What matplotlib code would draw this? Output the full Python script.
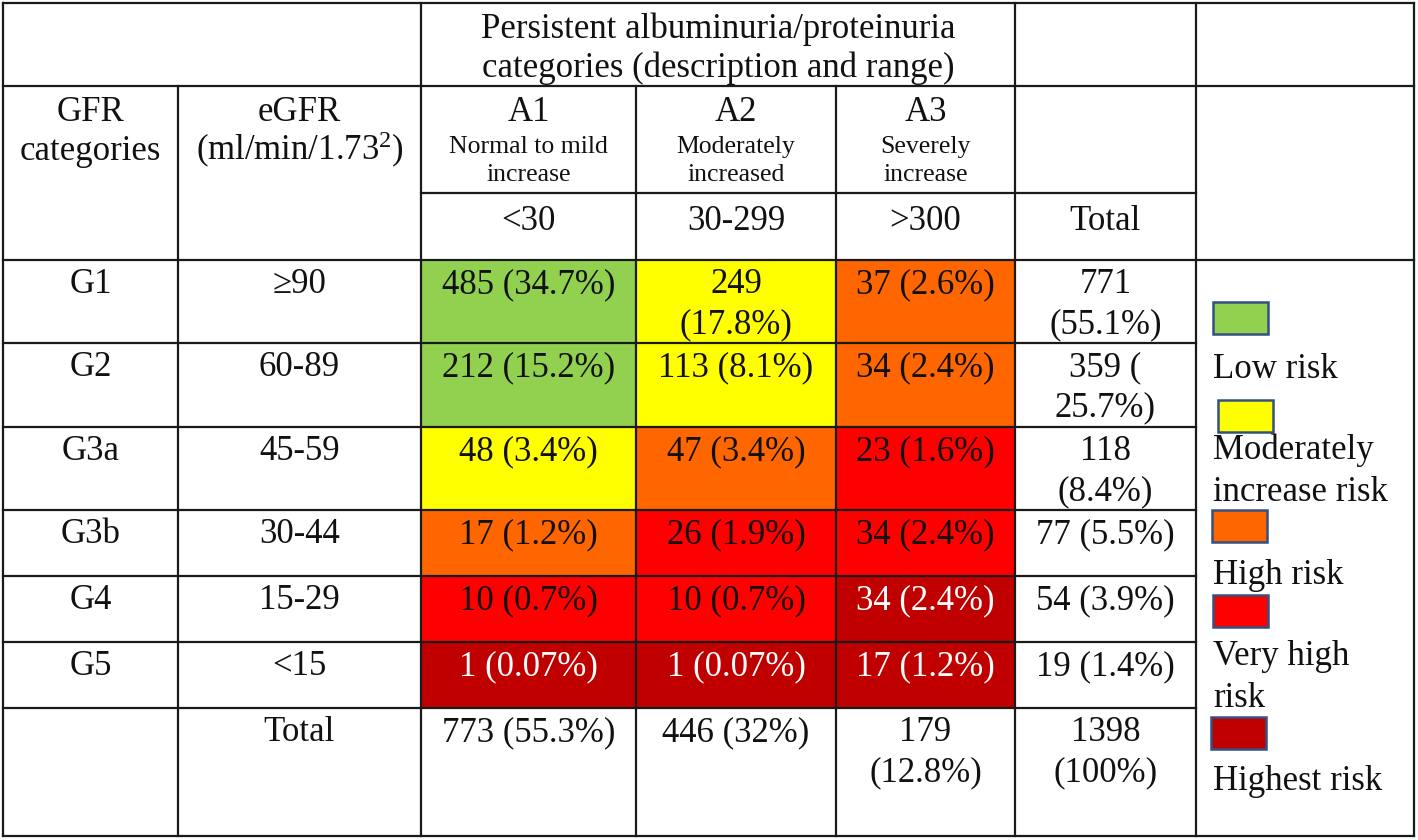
import matplotlib
matplotlib.use("Agg")
import matplotlib.pyplot as plt
from matplotlib.patches import Rectangle

# ---------------- data ----------------
gfr_categories = ["G1", "G2", "G3a", "G3b", "G4", "G5"]
egfr_ranges = ["\u226590", "60-89", "45-59", "30-44", "15-29", "<15"]
alb_categories = ["A1", "A2", "A3"]
alb_descriptions = ["Normal to mild\nincrease", "Moderately\nincreased", "Severely\nincrease"]
alb_ranges = ["<30", "30-299", ">300"]
counts = [[485, 249, 37],
          [212, 113, 34],
          [48, 47, 23],
          [17, 26, 34],
          [10, 10, 34],
          [1, 1, 17]]
percents = [["34.7", "17.8", "2.6"],
            ["15.2", "8.1", "2.4"],
            ["3.4", "3.4", "1.6"],
            ["1.2", "1.9", "2.4"],
            ["0.7", "0.7", "2.4"],
            ["0.07", "0.07", "1.2"]]
wrapped_cells = {(0, 1)}
risk_levels = [[0, 1, 2],
               [0, 1, 2],
               [1, 2, 3],
               [2, 3, 3],
               [3, 3, 4],
               [4, 4, 4]]
row_total_labels = ["771\n(55.1%)", "359 (\n25.7%)", "118\n(8.4%)",
                    "77 (5.5%)", "54 (3.9%)", "19 (1.4%)"]
col_total_labels = ["773 (55.3%)", "446 (32%)", "179\n(12.8%)"]
grand_total_label = "1398\n(100%)"
title_text = "Persistent albuminuria/proteinuria\ncategories (description and range)"
egfr_header = "eGFR\n(ml/min/1.73$^{2}$)"
risk_labels = ["Low risk", "Moderately\nincrease risk", "High risk",
               "Very high\nrisk", "Highest risk"]
risk_colors = ["#92D050", "#FFFF00", "#FF6600", "#FF0000", "#C00000"]
risk_text_colors = ["#111111", "#111111", "#111111", "#111111", "#FFFFFF"]

# ---------------- layout (pixels) ----------------
W, H = 1418, 840
col_edges = [3, 178, 421, 636, 836, 1015, 1196, 1414]
row_edges = [260, 343, 427, 510, 576, 642, 708, 836]
top, hdr1, hdr2 = 3, 86, 193
first_off = 33     # baseline offset from row top
line_gap = 40

plt.rcParams["font.family"] = ["Liberation Serif", "DejaVu Serif"]
plt.rcParams["mathtext.fontset"] = "custom"
plt.rcParams["mathtext.rm"] = "Liberation Serif"
plt.rcParams["mathtext.it"] = "Liberation Serif"
plt.rcParams["mathtext.default"] = "rm"
FS = 25
FS_SMALL = 18.5
FS_LEG = 25

fig = plt.figure(figsize=(W / 100, H / 100), dpi=100)
ax = fig.add_axes([0, 0, 1, 1])
ax.set_xlim(0, W)
ax.set_ylim(H, 0)
ax.axis("off")


def cell_text(x, y0, text, fs=FS, color="#111111", gap=line_gap, ha="center"):
    for i, line in enumerate(text.split("\n")):
        ax.text(x, y0 + i * gap, line, fontsize=fs, color=color,
                ha=ha, va="baseline")


def cx(c):
    return (col_edges[c] + col_edges[c + 1]) / 2


# coloured cells
for r in range(len(gfr_categories)):
    for c in range(len(alb_categories)):
        lvl = risk_levels[r][c]
        x0, x1 = col_edges[c + 2], col_edges[c + 3]
        y0, y1 = row_edges[r], row_edges[r + 1]
        ax.add_patch(Rectangle((x0, y0), x1 - x0, y1 - y0,
                               facecolor=risk_colors[lvl], edgecolor="none", zorder=1))
        sep = "\n" if (r, c) in wrapped_cells else " "
        label = f"{counts[r][c]}{sep}({percents[r][c]}%)"
        cell_text(cx(c + 2), y0 + first_off, label, color=risk_text_colors[lvl])

# row headers and totals
for r in range(len(gfr_categories)):
    y0 = row_edges[r] + first_off
    cell_text(cx(0), y0, gfr_categories[r])
    cell_text(cx(1), y0, egfr_ranges[r])
    cell_text(cx(5), y0, row_total_labels[r])

# total row
ytot = row_edges[-2] + first_off
cell_text(cx(1), ytot, "Total")
for c in range(3):
    cell_text(cx(c + 2), ytot, col_total_labels[c])
cell_text(cx(5), ytot, grand_total_label)

# header
cell_text((col_edges[2] + col_edges[5]) / 2, 38, title_text, gap=39)
cell_text(cx(0), 121, "GFR\ncategories", gap=39)
cell_text(cx(1), 121, egfr_header, gap=39)
for c in range(3):
    cell_text(cx(c + 2), 121, alb_categories[c])
    cell_text(cx(c + 2), 153, alb_descriptions[c], fs=FS_SMALL, gap=28)
    cell_text(cx(c + 2), 230, alb_ranges[c])
cell_text(cx(5), 230, "Total")

# grid lines
lk = dict(color="#1a1a1a", lw=1.6, zorder=3, solid_capstyle="projecting")
L, R = col_edges[0], col_edges[-1]
B = row_edges[-1]
for y in [top, hdr1, row_edges[0], B]:
    ax.plot([L, R], [y, y], **lk)
ax.plot([col_edges[2], col_edges[6]], [hdr2, hdr2], **lk)
for y in row_edges[1:-1]:
    ax.plot([L, col_edges[6]], [y, y], **lk)
for x in [col_edges[0], col_edges[2], col_edges[5], col_edges[6], col_edges[7]]:
    ax.plot([x, x], [top, B], **lk)
for x in [col_edges[1], col_edges[3], col_edges[4]]:
    ax.plot([x, x], [hdr1, B], **lk)

# legend
leg_boxes_y = [302, 400, 510, 595, 717]
leg_boxes_x = [1213, 1218, 1212, 1213, 1211]
leg_text_y = [378, 459, 584, 665, 790]
for i, lab in enumerate(risk_labels):
    ax.add_patch(Rectangle((leg_boxes_x[i], leg_boxes_y[i]), 55, 32,
                           facecolor=risk_colors[i], edgecolor="#34507F",
                           lw=1.8, zorder=2))
    cell_text(1213, leg_text_y[i], lab, fs=FS_LEG, gap=42, ha="left")

fig.savefig("out.png", dpi=100, facecolor="white")
